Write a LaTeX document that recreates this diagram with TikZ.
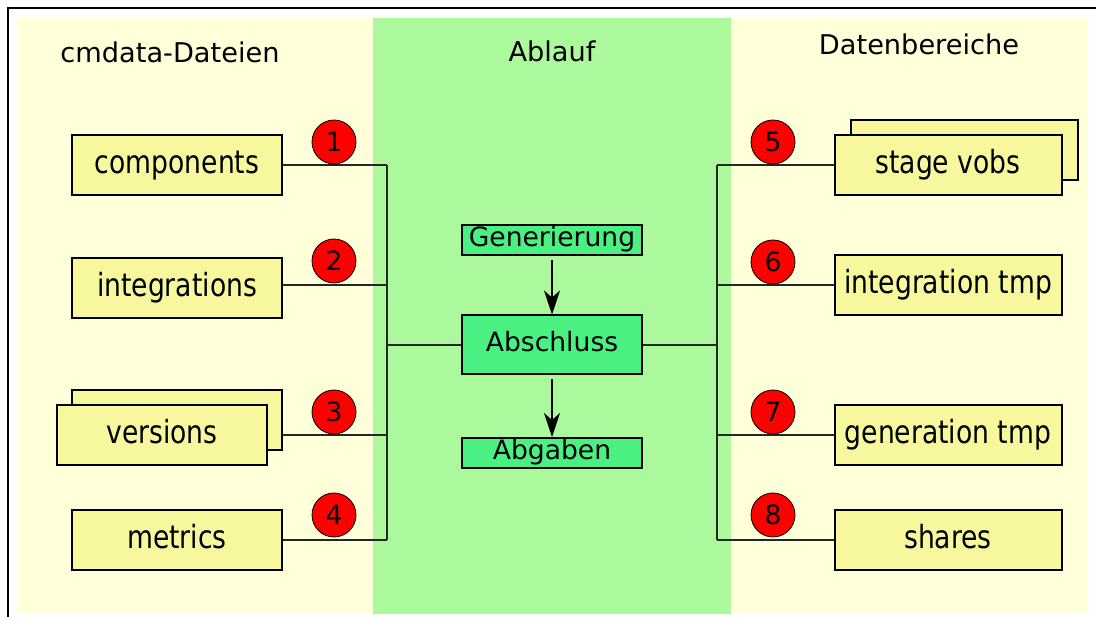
\documentclass[tikz,border=0pt]{standalone}
\usepackage{fontspec}
\usepackage{graphicx}
\setmainfont{DejaVu Sans}
\usetikzlibrary{arrows.meta}
\definecolor{panelyellow}{RGB}{255,255,218}
\definecolor{panelgreen}{RGB}{171,249,156}
\definecolor{boxyellow}{RGB}{247,247,158}
\definecolor{boxgreen}{RGB}{74,240,130}
\definecolor{badgered}{RGB}{255,0,0}
% labels of the yellow boxes are set a little taller than wide
\newcommand{\tallbox}[1]{\scalebox{1}[1.2]{#1}}
\begin{document}
\begin{tikzpicture}[x=1pt,y=-1pt,
  every node/.style={font=\fontsize{26.6}{32}\selectfont},
  filebox/.style={draw=black, line width=2pt, fill=boxyellow, minimum width=210pt, minimum height=60pt, inner sep=0pt, text height=25pt, text depth=8pt},
  areabox/.style={filebox, minimum width=227pt},
  stepbox/.style={draw=black, line width=2pt, fill=boxgreen, minimum width=180pt, inner sep=0pt, text height=20pt, text depth=6pt},
  badge/.style={circle, draw=black, line width=0.8pt, fill=badgered, minimum size=44pt, inner sep=0pt},
  heading/.style={anchor=base, font=\fontsize{27.2}{32}\selectfont},
  conn/.style={draw=black!85, line width=1.5pt},
  flow/.style={draw=black, line width=1.5pt, -{Stealth[length=24pt, width=16pt, inset=7pt]}}]
\useasboundingbox (0,0) rectangle (1096,617);
% frame and background panels
\draw[line width=2pt] (8,617) -- (8,8) -- (1097,8);
\fill[panelyellow] (17,18) rectangle (1088,614);
\fill[panelgreen] (373,18) rectangle (731,614);

% column headings
\node[heading] (hleft) at (170,63) {cmdata-Dateien};
\node[heading] (hmid) at (552,62) {Ablauf};
\node[heading] (hright) at (919,55) {Datenbereiche};

% cmdata files
\node[filebox] (comp) at (177,165) {\tallbox{components}};
\node[filebox] (integ) at (177,288) {\tallbox{integrations}};
\node[filebox] (versback) at (177,420) {};
\node[filebox] (vers) at (162,435) {\tallbox{versions}};
\node[filebox] (metr) at (177,540) {\tallbox{metrics}};

% data areas
\node[areabox] (stageback) at (964,150) {};
\node[areabox] (stage) at (948,165) {\tallbox{stage vobs}};
\node[areabox] (itmp) at (948,285) {\tallbox{integration tmp}};
\node[areabox] (gtmp) at (948,435) {\tallbox{generation tmp}};
\node[areabox] (shares) at (948,540) {\tallbox{shares}};

% process steps
\node[stepbox, minimum height=30pt] (gen) at (552,240) {Generierung};
\node[stepbox, minimum height=59pt] (absch) at (552,345) {Abschluss};
\node[stepbox, minimum height=30pt] (abg) at (552,453) {Abgaben};

\draw[flow] (gen.south) ++(0,4) -- (absch.north);
\draw[flow] (absch.south) ++(0,4) -- (abg.north);

% bus lines
\coordinate (lbus) at (387,345);
\coordinate (rbus) at (717,345);

\draw[conn] (comp.east) -- (comp.east -| lbus);
\draw[conn] (integ.east |- itmp.west) -- (itmp.west -| lbus);
\draw[conn] (versback.east |- vers.east) -- (vers.east -| lbus);
\draw[conn] (metr.east) -- (metr.east -| lbus);
\draw[conn] (comp.east -| lbus) -- (metr.east -| lbus);
\draw[conn] (lbus) -- (absch.west);

\draw[conn] (stage.west) -- (stage.west -| rbus);
\draw[conn] (itmp.west) -- (itmp.west -| rbus);
\draw[conn] (gtmp.west) -- (gtmp.west -| rbus);
\draw[conn] (shares.west) -- (shares.west -| rbus);
\draw[conn] (stage.west -| rbus) -- (shares.west -| rbus);
\draw[conn] (absch.east) -- (rbus);

% numbered badges
\node[badge] (b1) at (334,142) {1};
\node[badge] (b2) at (334,261) {2};
\node[badge] (b3) at (334,412) {3};
\node[badge] (b4) at (334,515) {4};
\node[badge] (b5) at (773,142) {5};
\node[badge] (b6) at (773,262) {6};
\node[badge] (b7) at (773,412) {7};
\node[badge] (b8) at (773,515) {8};
\end{tikzpicture}
\end{document}
